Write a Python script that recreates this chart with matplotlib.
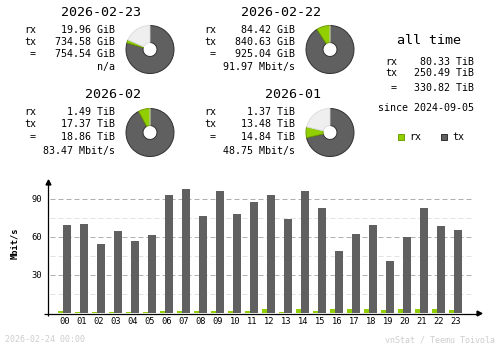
import numpy as np
import matplotlib
matplotlib.use("Agg")
import matplotlib.pyplot as plt
from matplotlib.patches import Rectangle

# summary blocks
periods = ["2026-02-23", "2026-02-22", "2026-02", "2026-01"]
rx_vals = [19.96, 84.42, 1.49, 1.37]
tx_vals = [734.58, 840.63, 17.37, 13.48]
tot_vals = [754.54, 925.04, 18.86, 14.84]
units = ["GiB", "GiB", "TiB", "TiB"]
rates = ["n/a", "91.97 Mbit/s", "83.47 Mbit/s", "48.75 Mbit/s"]

# all time
all_rx, all_tx, all_tot = 80.33, 250.49, 330.82
since = "2024-09-05"

# hourly rates (Mbit/s)
hours = np.arange(24)
hour_labels = ["%02d" % h for h in hours]
rx_rate = [1.8, 1.0, 1.0, 1.0, 1.0, 1.0, 1.8, 1.8, 1.8, 1.8, 1.8, 1.8,
           3.4, 1.0, 3.4, 1.8, 3.4, 3.4, 3.4, 2.6, 3.4, 3.4, 3.4, 2.6]
tx_rate = [69.7, 70.5, 54.7, 65.0, 57.1, 61.8, 93.4, 98.2, 76.8, 96.6, 78.4, 87.9,
           93.4, 74.5, 96.6, 83.2, 49.2, 62.6, 69.7, 41.3, 59.7, 83.2, 68.9, 65.8]

footer_left = "2026-02-24 00:00"
footer_right = "vnStat / Teemu Toivola"

C_RX = "#92CF00"
C_TX = "#606060"
C_RX_E = "#6E9C00"
C_TX_E = "#303030"
C_FREE = "#EFEFEF"
C_FREE_E = "#DDDDDD"
MONO = "DejaVu Sans Mono"
BIG, MID, SMALL = 9.6, 7.2, 6.0

W, H = 500, 348
fig = plt.figure(figsize=(W / 100, H / 100), dpi=100)
fig.patch.set_facecolor("white")


def fx(x):
    return x / W


def fy(y):
    return 1 - y / H


def txt(x, y, s, ha="left", size=MID, color="black", **kw):
    fig.text(fx(x), fy(y), s, ha=ha, va="center", fontsize=size,
             family=MONO, color=color, **kw)


def pie(cx, cy, tx, rx, full):
    r = 24
    box = 26
    ax = fig.add_axes([fx(cx - box), fy(cy + box), 2 * box / W, 2 * box / H])
    sizes = [tx / full, rx / full, max(full - tx - rx, 0) / full]
    wedges, _ = ax.pie(sizes, colors=[C_TX, C_RX, C_FREE], startangle=90,
                       counterclock=False, radius=1.0,
                       wedgeprops=dict(width=0.71, linewidth=0.7))
    for w, ec in zip(wedges, [C_TX_E, C_RX_E, C_FREE_E]):
        w.set_edgecolor(ec)
    lim = box / r
    ax.set_xlim(-lim, lim)
    ax.set_ylim(-lim, lim)
    ax.set_aspect("auto")
    ax.axis("off")


# positions of the four blocks: (x offset, title y, row ys)
blocks = [(0, 12, [30, 42, 54, 67]),
          (180, 12, [30, 42, 54, 67]),
          (0, 95, [112, 124, 137, 151]),
          (180, 95, [112, 124, 137, 151])]

for i, (ox, ty, rows) in enumerate(blocks):
    pair = i // 2 * 2
    full = max(tot_vals[pair], tot_vals[pair + 1])
    txt(ox + 141, ty, periods[i], ha="right", size=BIG)
    u = units[i]
    for lab, v, y in zip(["rx", "tx", " ="], [rx_vals[i], tx_vals[i], tot_vals[i]], rows[:3]):
        txt(ox + 24, y, lab)
        txt(ox + 115, y, "%.2f %s" % (v, u), ha="right")
    txt(ox + 115, rows[3], rates[i], ha="right")
    pie(ox + 150, ty + 37.5, tx_vals[i], rx_vals[i], full)

# all time block
txt(429, 40, "all time", ha="center", size=BIG)
for lab, v, y in zip(["rx", "tx", " ="], [all_rx, all_tx, all_tot], [62, 73, 88]):
    txt(385, y, lab)
    txt(474, y, "%.2f TiB" % v, ha="right")
txt(474, 108, "since " + since, ha="right")

for x0, col, ec, lab in [(398, C_RX, C_RX_E, "rx"), (441, C_TX, C_TX_E, "tx")]:
    fig.add_artist(Rectangle((fx(x0), fy(140)), 6 / W, 6 / H, transform=fig.transFigure,
                             facecolor=col, edgecolor=ec, linewidth=0.7))
    txt(x0 + 11, 137, lab)

# hourly bar chart
ax_l, ax_r, ax_t, ax_b = 48, 479, 182, 313
ax = fig.add_axes([fx(ax_l), fy(ax_b), (ax_r - ax_l) / W, (ax_b - ax_t) / H])
ppu = 38 / 30.0
ax.set_ylim(0, (ax_b - ax_t) / ppu)
step = 17.0
ax.set_xlim((ax_l - 65) / step, (ax_r - 65) / step)

xmin = (50 - ax_l) / (ax_r - ax_l)
xmax = (473 - ax_l) / (ax_r - ax_l)
for v in [15, 45, 75]:
    ax.axhline(v, xmin=xmin, xmax=xmax, color="#E2E2E2", lw=0.72,
               dashes=(5, 3), zorder=0)
for v in [30, 60, 90]:
    ax.axhline(v, xmin=xmin, xmax=xmax, color="#B0B0B0", lw=0.72,
               dashes=(5, 3), zorder=0)

ax.bar(hours - 7 / step, rx_rate, width=5 / step, align="edge", color=C_RX,
       linewidth=0, zorder=2, antialiased=False)
ax.bar(hours - 2 / step, tx_rate, width=8 / step, align="edge", color=C_TX,
       linewidth=0, zorder=3, antialiased=False)

for s in ax.spines.values():
    s.set_visible(False)
ax.plot([0, 0], [-3 / 131, 1], transform=ax.transAxes, color="black", lw=0.9,
        clip_on=False, solid_capstyle="butt", zorder=5)
ax.plot([-4 / 431, 1], [-0.5 / 131, -0.5 / 131], transform=ax.transAxes, color="black", lw=0.9,
        clip_on=False, solid_capstyle="butt", zorder=5)
ax.plot([0], [1], marker="^", markersize=3.5, color="black", transform=ax.transAxes,
        clip_on=False, zorder=6)
ax.plot([1], [0], marker=">", markersize=3.5, color="black", transform=ax.transAxes,
        clip_on=False, zorder=6)

ax.set_yticks([30, 60, 90])
ax.set_yticklabels(["30", "60", "90"], family=MONO, fontsize=6.3)
ax.set_xticks(hours)
ax.set_xticklabels(hour_labels, family=MONO, fontsize=6.3)
ax.tick_params(axis="y", length=0, pad=4.3)
ax.tick_params(axis="x", length=0, pad=3.2)
ax.patch.set_alpha(0)

txt(14.5, 243, "Mbit/s", ha="center", size=6.3, rotation=90, weight="bold")

txt(5, 340, footer_left, size=SMALL, color="#CDCDCD")
txt(495, 340, footer_right, ha="right", size=SMALL, color="#CDCDCD")

fig.savefig("out.png", dpi=100)
